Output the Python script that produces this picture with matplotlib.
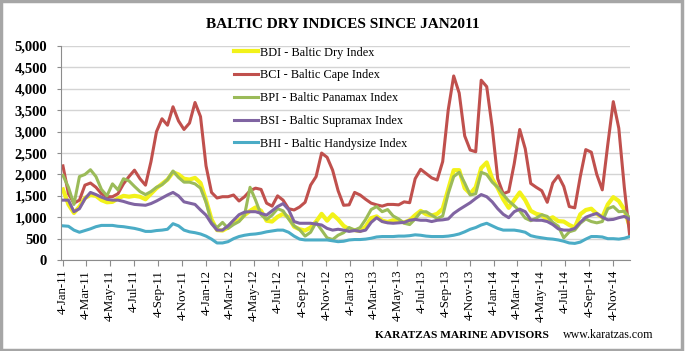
import matplotlib
matplotlib.use("Agg")
import matplotlib.pyplot as plt
import matplotlib.dates as mdates
from matplotlib.patches import Rectangle
import pandas as pd

# fortnightly readings, 4-Jan-2011 .. 16-Dec-2014
dates = pd.date_range("2011-01-04", periods=104, freq="14D")

bdi = [1650, 1300, 1100, 1250, 1450, 1520, 1500, 1400, 1350, 1360, 1440, 1500, 1480, 1500, 1480, 1420,
       1550, 1680, 1780, 1880, 2050, 2000, 1900, 1880, 1920, 1800, 1400, 950, 700, 690, 760, 900,
       930, 1050, 1150, 1230, 1150, 920, 900, 1010, 1080, 1000, 780, 720, 690, 760, 900, 1080,
       920, 1070, 950, 800, 720, 700, 680, 780, 980, 1020, 920, 890, 930, 910, 880, 930,
       1050, 1150, 1070, 1040, 1080, 1200, 1650, 2100, 2100, 1680, 1550, 1700, 2150, 2280, 1900, 1680,
       1420, 1220, 1400, 1580, 1400, 1150, 1080, 1050, 940, 1000, 910, 900, 820, 760, 1070, 1170,
       1200, 1080, 1000, 1300, 1470, 1380, 1180, 780]

bci = [2200, 1550, 1330, 1400, 1750, 1800, 1700, 1550, 1480, 1480, 1550, 1780, 1950, 2100, 1900, 1750,
       2300, 3000, 3300, 3150, 3580, 3250, 3050, 3200, 3680, 3350, 2200, 1580, 1450, 1480, 1480, 1520,
       1380, 1480, 1620, 1680, 1650, 1330, 1260, 1500, 1400, 1200, 1170, 1240, 1350, 1750, 1950, 2500,
       2400, 2100, 1620, 1280, 1290, 1580, 1520, 1420, 1330, 1290, 1260, 1300, 1300, 1290, 1360, 1340,
       1900, 2120, 2020, 1920, 1870, 2300, 3500, 4300, 3900, 2900, 2570, 2530, 4200, 4050, 3100, 1900,
       1550, 1600, 2250, 3050, 2600, 1790, 1700, 1620, 1350, 1800, 1970, 1720, 1250, 1220, 1950, 2580,
       2520, 2000, 1640, 2700, 3700, 3080, 1700, 550]

bpi = [1980, 1700, 1300, 1950, 2000, 2110, 1950, 1650, 1500, 1780, 1640, 1900, 1850, 1720, 1600, 1530,
       1600, 1700, 1760, 1880, 2080, 1930, 1820, 1820, 1780, 1680, 1350, 880, 760, 880, 740, 830,
       900, 1050, 1700, 1400, 1060, 950, 1050, 1200, 1150, 960, 800, 710, 560, 650, 880, 700,
       520, 480, 580, 640, 760, 700, 760, 950, 1180, 1250, 1130, 1180, 1030, 960, 860, 830,
       960, 1120, 1130, 1050, 970, 1030, 1550, 1950, 2050, 1800, 1520, 1550, 2050, 2000, 1820, 1700,
       1530, 1380, 1270, 1150, 980, 920, 980, 1060, 1020, 880, 790, 520, 660, 700, 860, 960,
       900, 870, 900, 1200, 1250, 1130, 1140, 980]

bsi = [1400, 1400, 1130, 1200, 1430, 1580, 1530, 1470, 1420, 1400, 1400, 1370, 1330, 1300, 1290, 1280,
       1320, 1380, 1450, 1520, 1580, 1500, 1360, 1330, 1300, 1170, 1050, 850, 700, 700, 800, 930,
       1060, 1120, 1130, 1130, 1090, 1050, 1150, 1250, 1320, 1180, 900, 860, 860, 860, 840, 820,
       740, 700, 720, 700, 670, 690, 670, 700, 880, 990, 900, 870, 860, 870, 880, 930,
       950, 930, 930, 900, 930, 940, 960, 1090, 1180, 1260, 1340, 1440, 1530, 1480, 1360, 1200,
       1070, 990, 1130, 1190, 1130, 940, 930, 930, 900, 830, 730, 700, 700, 740, 880, 1000,
       1050, 1090, 1000, 940, 950, 990, 1020, 950]

bhi = [800, 790, 700, 650, 690, 730, 780, 810, 810, 810, 790, 780, 760, 740, 710, 670,
       670, 690, 700, 720, 850, 800, 700, 660, 640, 610, 560, 490, 400, 400, 430, 500,
       550, 580, 600, 610, 630, 660, 680, 700, 700, 650, 560, 490, 470, 470, 470, 470,
       470, 450, 430, 440, 470, 480, 480, 490, 510, 540, 550, 550, 550, 560, 560, 570,
       590, 580, 560, 550, 550, 550, 560, 580, 610, 660, 720, 760, 820, 860, 800, 740,
       700, 700, 700, 680, 650, 570, 540, 520, 500, 490, 470, 440, 400, 390, 420, 490,
       550, 550, 540, 500, 500, 490, 510, 550]

series = [
    ("BDI - Baltic Dry Index", bdi, "#f2f21a", 3.0),
    ("BCI - Baltic Cape Index", bci, "#c0504d", 2.2),
    ("BPI - Baltic Panamax Index", bpi, "#9bbb59", 2.2),
    ("BSI - Baltic Supramax Index", bsi, "#8064a2", 2.2),
    ("BHI - Baltic Handysize Index", bhi, "#4bacc6", 2.2),
]

serif = ["Liberation Serif", "DejaVu Serif"]
plt.rcParams["font.family"] = serif

fig = plt.figure(figsize=(6.85, 3.51), dpi=100)
ax = fig.add_axes([0.089, 0.259, 0.831, 0.610])

for name, vals, col, lw in series:
    ax.plot(dates, vals, color=col, lw=lw, label=name, solid_joinstyle="round")

ax.set_ylim(0, 5000)
ax.set_yticks(range(0, 5001, 500))
ax.yaxis.set_major_formatter(plt.FuncFormatter(lambda v, p: f"{int(v):,}"))
ax.set_xlim(pd.Timestamp("2010-12-30"), pd.Timestamp("2014-12-17"))
ax.xaxis.set_major_locator(mdates.MonthLocator(bymonth=[1, 3, 5, 7, 9, 11], bymonthday=4))
ax.xaxis.set_major_formatter(mdates.DateFormatter("%-d-%b-%y"))

ax.grid(axis="y", color="#d4d4d4", lw=1.0)
ax.set_axisbelow(True)
for s in ("top", "right"):
    ax.spines[s].set_visible(False)
for s in ("left", "bottom"):
    ax.spines[s].set_color("#8c8c8c")
ax.tick_params(axis="x", direction="out", length=4, color="#8c8c8c", labelsize=9.3,
               labelrotation=90, pad=3)
ax.tick_params(axis="y", direction="out", length=3, color="#8c8c8c", labelsize=10.5, pad=7)
for lab in ax.get_yticklabels():
    lab.set_fontweight("bold")

leg = ax.legend(loc="upper left", bbox_to_anchor=(0.295, 1.02), frameon=False,
                fontsize=8.8, handlelength=2.0, handletextpad=0.15, labelspacing=0.88,
                borderaxespad=0)

fig.text(0.5, 0.93, "BALTIC DRY INDICES SINCE JAN2011", ha="center", va="center",
         fontsize=11, fontweight="bold")
fig.text(0.547, 0.045, "KARATZAS MARINE ADVISORS", ha="left", va="center",
         fontsize=8.2, fontweight="bold")
fig.text(0.822, 0.045, "www.karatzas.com", ha="left", va="center", fontsize=8.6)

fig.patches.append(Rectangle((0.002, 0.003), 0.994, 0.993, transform=fig.transFigure,
                             fill=False, edgecolor="#a6a6a6", lw=2.5))

fig.savefig("out.png", dpi=100)
